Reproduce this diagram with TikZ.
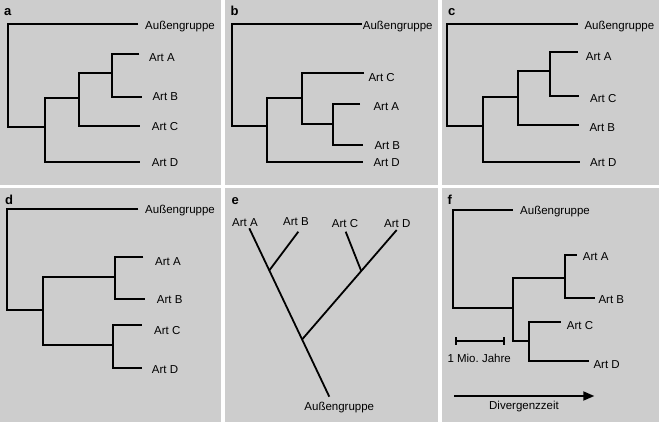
\documentclass[tikz,border=0pt]{standalone}
\usepackage{fontspec}
\setmainfont{Liberation Sans}
\usetikzlibrary{arrows.meta,calc}
\definecolor{bgray}{RGB}{205,205,205}
\begin{document}
\begin{tikzpicture}[x=1pt,y=-1pt,
  panel/.style={fill=bgray},
  tree/.style={draw=black,line width=1.8pt},
  lbl/.style={font=\fontsize{11.5}{13}\selectfont,inner sep=0pt,text height=8.2pt,text depth=0pt,anchor=west},
  lblc/.style={lbl,anchor=center},
  plabel/.style={font=\fontsize{13}{15}\selectfont\bfseries,inner sep=0pt,anchor=base west}]
\useasboundingbox (0,0) rectangle (659,422);
\fill[white] (0,0) rectangle (659,422);
% panels
\fill[panel] (0,0) rectangle (221,185);
\fill[panel] (225,0) rectangle (438,185);
\fill[panel] (442,0) rectangle (659,185);
\fill[panel] (0,188) rectangle (221,422);
\fill[panel] (225,188) rectangle (438,422);
\fill[panel] (442,188) rectangle (659,422);
% panel labels
\node[plabel] (la) at (4,15.3) {a};
\node[plabel] (lb) at (230.5,15.3) {b};
\node[plabel] (lc) at (448,15.3) {c};
\node[plabel] (ld) at (5,204.3) {d};
\node[plabel] (le) at (231.5,204.3) {e};
\node[plabel] (lf) at (447.5,204.3) {f};

% ---------- panel a ----------
\coordinate (a-r) at (8.3,126.7);
\coordinate (a-n1) at (45,126.7);
\coordinate (a-n2) at (79.3,98.3);
\coordinate (a-n3) at (111.7,73.3);
\coordinate (a-eO) at (138,24.3);
\coordinate (a-eA) at (139.3,54.3);
\coordinate (a-eB) at (141.7,96.7);
\coordinate (a-eC) at (140,125.7);
\coordinate (a-eD) at (140,162.3);
\draw[tree] (a-eO) -| (a-r) -- (a-n1);
\draw[tree] (a-n2) -| (a-n1) |- (a-eD);
\draw[tree] (a-n3) -| (a-n2) |- (a-eC);
\draw[tree] (a-eA) -| (a-n3) |- (a-eB);
\node[lbl] (a-O) at (145,25) {Außengruppe};
\node[lbl] (a-A) at (149,57) {Art A};
\node[lbl] (a-B) at (152.3,96.5) {Art B};
\node[lbl] (a-C) at (151.7,126.2) {Art C};
\node[lbl] (a-D) at (151.7,162.8) {Art D};

% ---------- panel b ----------
\coordinate (b-r) at (231.7,125.7);
\coordinate (b-n1) at (266.7,125.7);
\coordinate (b-n2) at (301.7,97.7);
\coordinate (b-n3) at (332.7,124.3);
\coordinate (b-eO) at (361.7,24.3);
\coordinate (b-eC) at (364,73.3);
\coordinate (b-eA) at (360,104);
\coordinate (b-eB) at (363.3,145);
\coordinate (b-eD) at (363.3,161.7);
\draw[tree] (b-eO) -| (b-r) -- (b-n1);
\draw[tree] (b-n2) -| (b-n1) |- (b-eD);
\draw[tree] (b-eC) -| (b-n2) |- (b-n3);
\draw[tree] (b-eA) -| (b-n3) |- (b-eB);
\node[lbl] (b-O) at (362.7,25) {Außengruppe};
\node[lbl] (b-C) at (368.3,77.7) {Art C};
\node[lbl] (b-A) at (373.3,106.7) {Art A};
\node[lbl] (b-B) at (374.3,145.3) {Art B};
\node[lbl] (b-D) at (373.3,162.3) {Art D};

% ---------- panel c ----------
\coordinate (c-r) at (447.3,125.7);
\coordinate (c-n1) at (483.3,125.7);
\coordinate (c-n2) at (518.3,97.3);
\coordinate (c-n3) at (550,71);
\coordinate (c-eO) at (577.7,24.3);
\coordinate (c-eA) at (577.7,52.3);
\coordinate (c-eC) at (579.3,96);
\coordinate (c-eB) at (579.3,124.7);
\coordinate (c-eD) at (580,162.3);
\draw[tree] (c-eO) -| (c-r) -- (c-n1);
\draw[tree] (c-n2) -| (c-n1) |- (c-eD);
\draw[tree] (c-n3) -| (c-n2) |- (c-eB);
\draw[tree] (c-eA) -| (c-n3) |- (c-eC);
\node[lbl] (c-O) at (584.3,25) {Außengruppe};
\node[lbl] (c-A) at (585.7,56.7) {Art A};
\node[lbl] (c-C) at (590,98.3) {Art C};
\node[lbl] (c-B) at (589.3,127.3) {Art B};
\node[lbl] (c-D) at (590,162.3) {Art D};

% ---------- panel d ----------
\coordinate (d-r) at (7.3,310);
\coordinate (d-n1) at (43.3,310);
\coordinate (d-n2) at (115,276.7);
\coordinate (d-n3) at (113.3,345);
\coordinate (d-eO) at (138.3,209);
\coordinate (d-eA) at (143.3,256.7);
\coordinate (d-eB) at (145,299.3);
\coordinate (d-eC) at (141.7,325);
\coordinate (d-eD) at (141.7,367.7);
\draw[tree] (d-eO) -| (d-r) -- (d-n1);
\draw[tree] (d-n2) -| (d-n1) |- (d-n3);
\draw[tree] (d-eA) -| (d-n2) |- (d-eB);
\draw[tree] (d-eC) -| (d-n3) |- (d-eD);
\node[lbl] (d-O) at (145,209.5) {Außengruppe};
\node[lbl] (d-A) at (155,261) {Art A};
\node[lbl] (d-B) at (156.7,299.3) {Art B};
\node[lbl] (d-C) at (154,330) {Art C};
\node[lbl] (d-D) at (151.7,369.3) {Art D};

% ---------- panel e ----------
\coordinate (e-eA) at (249.3,228.3);
\coordinate (e-r) at (329.3,396.7);
\coordinate (e-eB) at (298.3,231.7);
\coordinate (e-eC) at (345.7,231.7);
\coordinate (e-eD) at (396.7,230);
\coordinate (e-jAB) at ($(e-eA)!0.25!(e-r)$);
\coordinate (e-jD) at ($(e-eA)!0.66!(e-r)$);
\coordinate (e-jCD) at ($(e-eD)!0.375!(e-jD)$);
\draw[tree] (e-eA) -- (e-r);
\draw[tree] (e-eB) -- (e-jAB);
\draw[tree] (e-eD) -- (e-jD);
\draw[tree] (e-eC) -- (e-jCD);
\node[lblc] (e-A) at (245,222.3) {Art A};
\node[lblc] (e-B) at (296,221.7) {Art B};
\node[lblc] (e-C) at (345,223.3) {Art C};
\node[lblc] (e-D) at (397.3,223.3) {Art D};
\node[lblc] (e-O) at (339.3,406.5) {Außengruppe};

% ---------- panel f ----------
\coordinate (f-r) at (453.3,308.3);
\coordinate (f-n1) at (512.7,308.3);
\coordinate (f-n2) at (565,277.7);
\coordinate (f-n3) at (529,340.7);
\coordinate (f-eO) at (512.7,210);
\coordinate (f-eA) at (576.7,255);
\coordinate (f-eB) at (595,297.7);
\coordinate (f-eC) at (560.7,321.7);
\coordinate (f-eD) at (589.3,361);
\draw[tree] (f-eO) -| (f-r) -- (f-n1);
\draw[tree] (f-n2) -| (f-n1) |- (f-n3);
\draw[tree] (f-eA) -| (f-n2) |- (f-eB);
\draw[tree] (f-eC) -| (f-n3) |- (f-eD);
\node[lbl] (f-O) at (520,210) {Außengruppe};
\node[lbl] (f-A) at (582.7,256.7) {Art A};
\node[lbl] (f-B) at (598.3,299) {Art B};
\node[lbl] (f-C) at (566.7,325) {Art C};
\node[lbl] (f-D) at (593.3,364) {Art D};
% scale bar
\coordinate (f-sL) at (455.7,340.7);
\coordinate (f-sR) at (504,340.7);
\draw[tree,line width=1.6pt] (f-sL) -- (f-sR);
\draw[tree,line width=1.6pt] ([yshift=-3.8pt]f-sL) -- ([yshift=3.8pt]f-sL);
\draw[tree,line width=1.6pt] ([yshift=-3.8pt]f-sR) -- ([yshift=3.8pt]f-sR);
\node[lbl] (f-scale) at (447.3,358.3) {1 Mio.\ Jahre};
% arrow
\coordinate (f-aL) at (454,396);
\coordinate (f-aR) at (594.3,396);
\draw[tree,-{Triangle[length=11pt,width=9pt]}] (f-aL) -- (f-aR);
\node[lblc] (f-div) at (524,405.5) {Divergenzzeit};
\end{tikzpicture}
\end{document}
